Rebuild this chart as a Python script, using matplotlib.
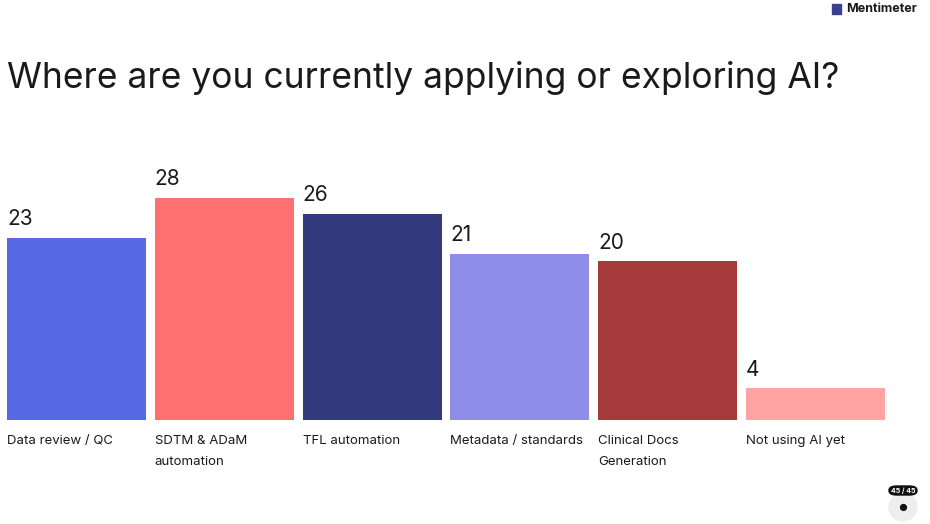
import matplotlib
matplotlib.use("Agg")
import matplotlib.pyplot as plt
from matplotlib.patches import FancyBboxPatch, Ellipse

plt.rcParams['font.family'] = ['Inter', 'DejaVu Sans']

categories = ["Data review / QC", "SDTM & ADaM\nautomation", "TFL automation",
              "Metadata / standards", "Clinical Docs\nGeneration", "Not using AI yet"]
values = [23, 28, 26, 21, 20, 4]
colors = ["#5869E6", "#FF7171", "#323A7D", "#8E8EE8", "#A63A3A", "#FFA3A3"]

W, H = 930, 524
fig = plt.figure(figsize=(W / 100, H / 100), dpi=100)
fig.patch.set_facecolor("white")

fig.text(7 / W, 1 - 78 / H, "Where are you currently applying or exploring AI?",
         fontsize=25.5, color="#1a1a1a", va="center", ha="left")

# logo
fig.patches.append(FancyBboxPatch((832 / W, 1 - 14 / H), 9 / W, 10 / H, boxstyle="square,pad=0",
                                  transform=fig.transFigure, color="#3a3f8f"))
fig.text(846 / W, 1 - 9 / H, "Mentimeter", fontsize=9, fontweight="bold",
         color="#1a1a1a", va="center", ha="left")

# bottom-right badge
fig.patches.append(Ellipse((903 / W, 1 - 507 / H), 28 / W, 28 / H, transform=fig.transFigure,
                           color="#eeeeee"))
fig.patches.append(FancyBboxPatch((889 / W, 1 - 495 / H), 28 / W, 9 / H,
                                  boxstyle="round,pad=0,rounding_size=0.008",
                                  transform=fig.transFigure, color="#111111"))
fig.text(903 / W, 1 - 491 / H, "45 / 45", fontsize=5, color="white",
         ha="center", va="center", fontweight="bold")
fig.text(903 / W, 1 - 508 / H, "\u25cf", fontsize=7, color="#111111",
         ha="center", va="center")

ax = fig.add_axes([7 / W, 1 - 420 / H, (885 - 7) / W, (420 - 198) / H])
x = range(len(values))
ax.bar(x, values, width=0.94, color=colors)
ax.set_xlim(-0.47, len(values) - 0.53)
ax.set_ylim(0, max(values))
ax.axis("off")

for i, (v, c) in enumerate(zip(values, categories)):
    ax.text(i - 0.47, v + 1.1, str(v), fontsize=15, color="#1a1a1a",
            ha="left", va="bottom", clip_on=False)
    ax.text(i - 0.47, -1.95, c, fontsize=9.5, color="#1a1a1a", ha="left", va="top",
            linespacing=2.0, clip_on=False)

fig.savefig("out.png", dpi=100)
